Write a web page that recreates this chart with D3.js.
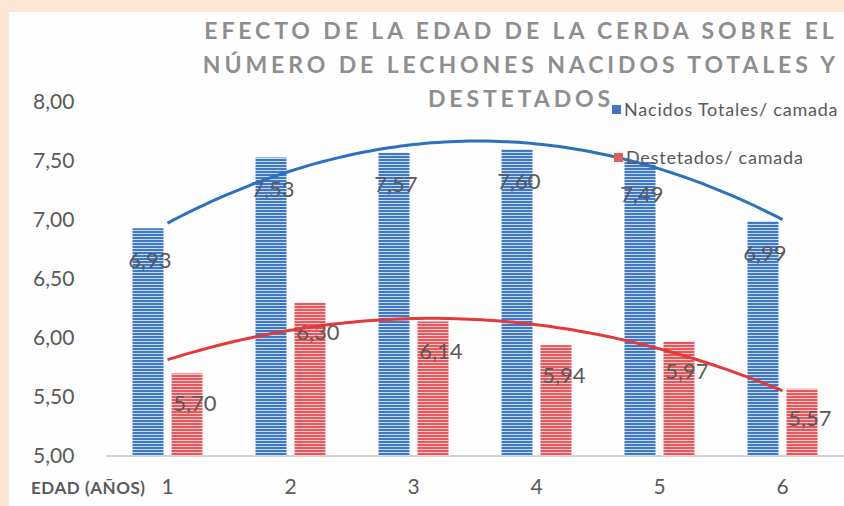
<!DOCTYPE html>
<html>
<head>
<meta charset="utf-8">
<style>
  body { margin: 0; background: #fce6d6; }
  svg { display: block; font-family: Lato, "Open Sans", sans-serif; }
</style>
</head>
<body>
<svg id="chart" width="844" height="506"></svg>
<script src="https://cdn.jsdelivr.net/npm/d3@7"></script>
<script>
  // data
  const edades = ["1", "2", "3", "4", "5", "6"]
  const nacidos = [6.93, 7.53, 7.57, 7.60, 7.49, 6.99]
  const destetados = [5.70, 6.30, 6.14, 5.94, 5.97, 5.57]
  const yTicks = [5, 5.5, 6, 6.5, 7, 7.5, 8]
  const tituloLineas = [
    "EFECTO DE LA EDAD DE LA CERDA SOBRE EL",
    "NÚMERO DE LECHONES NACIDOS TOTALES Y",
    "DESTETADOS"
  ]
  const leyenda = ["Nacidos Totales/ camada", "Destetados/ camada"]

  const colors = {blue: '#3f78c6', blueLine: '#2a72bd',
                  red: '#e6585c', redLine: '#e23a3a',
                  text: '#595959', title: '#8e8e8e'}

  const svg = d3.select('#chart')

  // white panel on the peach background
  svg.append('rect')
    .attr('x', 9).attr('y', 12)
    .attr('width', 835).attr('height', 494)
    .attr('fill', '#fefefe')

  // stripe patterns for bars
  const defs = svg.append('defs')
  function stripes(id, color, light) {
    const p = defs.append('pattern')
      .attr('id', id)
      .attr('patternUnits', 'userSpaceOnUse')
      .attr('width', 8).attr('height', 3)
    p.append('rect').attr('width', 8).attr('height', 3).attr('fill', color)
    p.append('rect').attr('y', 2).attr('width', 8).attr('height', 1).attr('fill', light)
  }
  stripes('stripeBlue', colors.blue, '#c9dbf2')
  stripes('stripeRed', colors.red, '#f7cbcc')

  const x = d3.scaleBand()
    .domain(edades)
    .range([106, 844])

  const y = d3.scaleLinear()
    .domain([5, 8])
    .range([456, 102])

  const barW = 31, gap = 4

  // y axis labels
  svg.append('g')
    .selectAll('text')
    .data(yTicks)
    .join('text')
      .attr('x', 33)
      .attr('y', d => y(d))
      .attr('dy', '0.35em')
      .attr('fill', colors.text)
      .style('font-size', '21px')
      .text(d => d.toFixed(2).replace('.', ','))

  // x axis line
  svg.append('line')
    .attr('x1', 106).attr('x2', 844)
    .attr('y1', y(5)).attr('y2', y(5))
    .attr('stroke', '#d4d4d4')
    .attr('stroke-width', 2)

  // x axis labels
  svg.append('g')
    .selectAll('text')
    .data(edades)
    .join('text')
      .attr('x', d => x(d) + x.bandwidth() / 2)
      .attr('y', 494)
      .attr('text-anchor', 'middle')
      .attr('fill', colors.text)
      .style('font-size', '21px')
      .text(d => d)

  svg.append('text')
    .attr('x', 31).attr('y', 494)
    .attr('fill', colors.text)
    .style('font-size', '17px')
    .style('font-weight', 'bold')
    .attr('textLength', 114)
    .text('EDAD (AÑOS)')

  // bars
  const cx = d => x(d) + x.bandwidth() / 2

  svg.append('g')
    .selectAll('rect')
    .data(edades)
    .join('rect')
      .attr('x', (d) => cx(d) - gap - barW)
      .attr('y', (d, i) => y(nacidos[i]))
      .attr('width', barW)
      .attr('height', (d, i) => y(5) - y(nacidos[i]))
      .attr('fill', 'url(#stripeBlue)')

  svg.append('g')
    .selectAll('rect')
    .data(edades)
    .join('rect')
      .attr('x', (d) => cx(d) + gap)
      .attr('y', (d, i) => y(destetados[i]))
      .attr('width', barW)
      .attr('height', (d, i) => y(5) - y(destetados[i]))
      .attr('fill', 'url(#stripeRed)')

  // polynomial (order 2) trend lines, like the spreadsheet ones
  function quadFit(vals) {
    const xs = vals.map((v, i) => i + 1)
    let s = [0, 0, 0, 0, 0], t = [0, 0, 0]
    xs.forEach((xi, i) => {
      for (let k = 0; k < 5; k++) s[k] += Math.pow(xi, k)
      for (let k = 0; k < 3; k++) t[k] += Math.pow(xi, k) * vals[i]
    })
    // solve 3x3 normal equations
    const A = [[s[0], s[1], s[2], t[0]], [s[1], s[2], s[3], t[1]], [s[2], s[3], s[4], t[2]]]
    for (let c = 0; c < 3; c++) {
      for (let r = c + 1; r < 3; r++) {
        const f = A[r][c] / A[c][c]
        for (let k = c; k < 4; k++) A[r][k] -= f * A[c][k]
      }
    }
    const b = [0, 0, 0]
    for (let r = 2; r >= 0; r--) {
      let sum = A[r][3]
      for (let k = r + 1; k < 3; k++) sum -= A[r][k] * b[k]
      b[r] = sum / A[r][r]
    }
    return t => b[0] + b[1] * t + b[2] * t * t
  }

  const xCont = d3.scaleLinear().domain([1, 6]).range([cx("1"), cx("6")])
  const line = d3.line().x(d => xCont(d[0])).y(d => y(d[1])).curve(d3.curveBasis)
  const samples = d3.range(1, 6.001, 0.05)

  const fitN = quadFit(nacidos), fitD = quadFit(destetados)

  // data labels
  svg.append('g')
    .selectAll('text')
    .data(nacidos)
    .join('text')
      .attr('x', (d, i) => cx(edades[i]) - gap - barW / 2 + 2)
      .attr('y', d => y(d) + 32)
      .attr('dy', '0.35em')
      .attr('text-anchor', 'middle')
      .attr('fill', colors.text)
      .style('font-size', '22px')
      .text(d => d.toFixed(2).replace('.', ','))

  svg.append('g')
    .selectAll('text')
    .data(destetados)
    .join('text')
      .attr('x', (d, i) => cx(edades[i]) + gap + barW / 2 + 8)
      .attr('y', d => y(d) + 30)
      .attr('dy', '0.35em')
      .attr('text-anchor', 'middle')
      .attr('fill', colors.text)
      .style('font-size', '22px')
      .text(d => d.toFixed(2).replace('.', ','))

  svg.append('path')
    .datum(samples.map(t => [t, fitN(t)]))
    .attr('d', line)
    .attr('fill', 'none')
    .attr('stroke', colors.blueLine)
    .attr('stroke-width', 3)

  svg.append('path')
    .datum(samples.map(t => [t, fitD(t)]))
    .attr('d', line)
    .attr('fill', 'none')
    .attr('stroke', colors.redLine)
    .attr('stroke-width', 3)

  // title
  svg.append('g')
    .selectAll('text')
    .data(tituloLineas)
    .join('text')
      .attr('x', 521)
      .attr('y', (d, i) => 39 + i * 34)
      .attr('text-anchor', 'middle')
      .attr('fill', colors.title)
      .style('font-size', '23px')
      .style('font-weight', 'bold')
      .style('letter-spacing', '3.9px')
      .text(d => d)

  // legend
  const leg = svg.append('g')
    .selectAll('g')
    .data(leyenda)
    .join('g')
      .attr('transform', (d, i) => `translate(${612 + i * 2}, ${110 + i * 48})`)
  leg.append('rect')
    .attr('x', 0).attr('y', -5)
    .attr('width', 9).attr('height', 9)
    .attr('fill', (d, i) => i ? colors.red : colors.blue)
  leg.append('text')
    .attr('x', 12)
    .attr('dy', '0.35em')
    .attr('fill', colors.text)
    .style('font-size', '18px')
    .style('letter-spacing', '0.8px')
    .text(d => d)
</script>
</body>
</html>
